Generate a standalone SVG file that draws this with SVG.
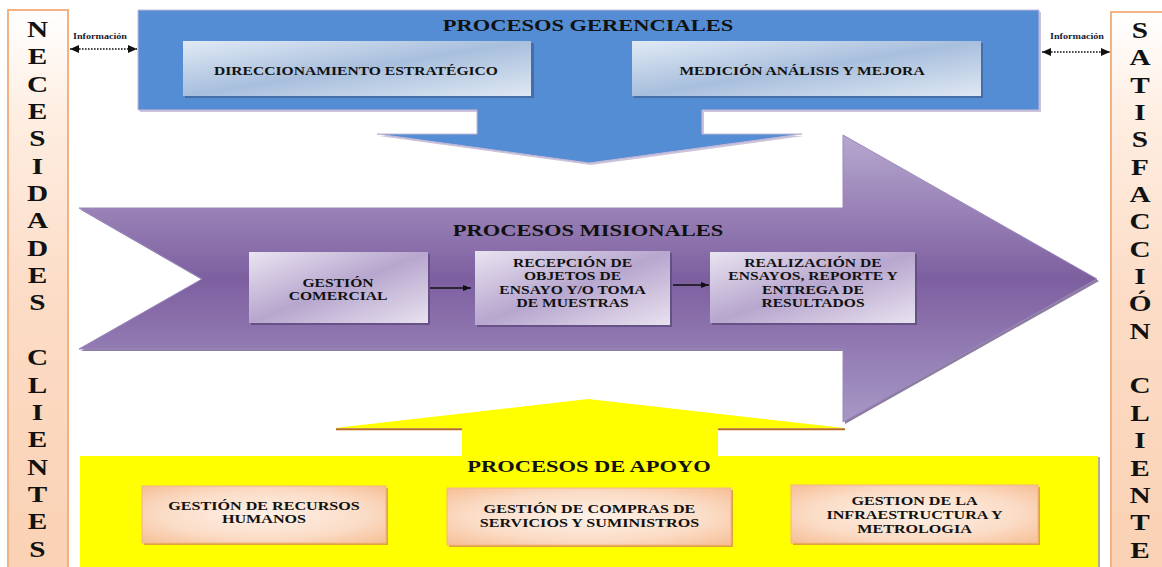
<svg xmlns="http://www.w3.org/2000/svg" width="1162" height="567" viewBox="0 0 1162 567">
<style>
.t{font-family:"Liberation Serif","Times New Roman",serif;font-weight:bold;fill:#111;text-anchor:middle}
.big{font-size:22.5px}
.h{font-size:17.3px}
.b{font-size:12px}
.y{font-size:12.4px}
.inf{font-size:7.8px;fill:#1a1a2e}
.col{fill:url(#colGrad);stroke:#f4b183;stroke-width:2}
.bluebox{fill:url(#blueGrad)}
.purbox{fill:url(#purGrad)}
.peachbox{fill:url(#peachGrad);stroke:#f2b68a;stroke-width:1}
.conn{stroke:#111;stroke-width:1.4;fill:none}
.dot{stroke:#111;stroke-width:1.6;stroke-dasharray:1.6 1.4;fill:none}
</style>
<defs>
<linearGradient id="colGrad" x1="0" y1="0" x2="0" y2="1">
<stop offset="0" stop-color="#ffffff"/>
<stop offset="0.18" stop-color="#feeee2"/>
<stop offset="0.5" stop-color="#fcdcc6"/>
<stop offset="1" stop-color="#fad1b3"/>
</linearGradient>
<linearGradient id="purArrow" x1="0" y1="0" x2="0" y2="1">
<stop offset="0" stop-color="#b7a8cf"/>
<stop offset="0.5" stop-color="#7d5fa0"/>
<stop offset="1" stop-color="#a898c6"/>
</linearGradient>
<linearGradient id="blueGrad" x1="0" y1="0" x2="1" y2="1">
<stop offset="0" stop-color="#e1eaf5"/>
<stop offset="0.5" stop-color="#a8bfdd"/>
<stop offset="1" stop-color="#dfe8f3"/>
</linearGradient>
<linearGradient id="purGrad" x1="0" y1="0" x2="1" y2="1">
<stop offset="0" stop-color="#e9e4f1"/>
<stop offset="0.5" stop-color="#b7a6ce"/>
<stop offset="1" stop-color="#e8e2ef"/>
</linearGradient>
<radialGradient id="peachGrad" cx="0.5" cy="0.5" r="0.7">
<stop offset="0" stop-color="#fdf1e8"/>
<stop offset="0.6" stop-color="#fbdcc6"/>
<stop offset="1" stop-color="#f6be95"/>
</radialGradient>
<marker id="ah" viewBox="0 0 8 6" refX="8" refY="3" markerWidth="8" markerHeight="6" markerUnits="userSpaceOnUse" orient="auto">
<path d="M0,0 L8,3 L0,6 Z" fill="#111"/>
</marker>
<marker id="dh" viewBox="0 0 9 8" refX="9" refY="4" markerWidth="9" markerHeight="8" markerUnits="userSpaceOnUse" orient="auto-start-reverse">
<path d="M0,0 L9,4 L0,8 Z" fill="#111"/>
</marker>
</defs>
<rect width="1162" height="567" fill="#ffffff"/>

<g id="necesidades-clientes">
<rect class="col" x="8" y="10" width="60" height="570"/>
<g transform="translate(37.5,0) scale(1.3,1)">
<text class="t big" x="0" y="37">N</text>
<text class="t big" x="0" y="64.3">E</text>
<text class="t big" x="0" y="91.7">C</text>
<text class="t big" x="0" y="119">E</text>
<text class="t big" x="0" y="146.4">S</text>
<text class="t big" x="0" y="173.7">I</text>
<text class="t big" x="0" y="201.1">D</text>
<text class="t big" x="0" y="228.4">A</text>
<text class="t big" x="0" y="255.8">D</text>
<text class="t big" x="0" y="283.1">E</text>
<text class="t big" x="0" y="310.5">S</text>
<text class="t big" x="0" y="365.2">C</text>
<text class="t big" x="0" y="392.6">L</text>
<text class="t big" x="0" y="419.9">I</text>
<text class="t big" x="0" y="447.3">E</text>
<text class="t big" x="0" y="474.6">N</text>
<text class="t big" x="0" y="502">T</text>
<text class="t big" x="0" y="529.3">E</text>
<text class="t big" x="0" y="556.7">S</text>
</g>
</g>

<g id="satisfaccion-cliente">
<rect class="col" x="1111" y="12" width="60" height="570"/>
<g transform="translate(1140,0) scale(1.3,1)">
<text class="t big" x="0" y="38">S</text>
<text class="t big" x="0" y="65.3">A</text>
<text class="t big" x="0" y="92.7">T</text>
<text class="t big" x="0" y="120">I</text>
<text class="t big" x="0" y="147.4">S</text>
<text class="t big" x="0" y="174.7">F</text>
<text class="t big" x="0" y="202.1">A</text>
<text class="t big" x="0" y="229.4">C</text>
<text class="t big" x="0" y="256.8">C</text>
<text class="t big" x="0" y="284.1">I</text>
<text class="t big" x="0" y="311.5">Ó</text>
<text class="t big" x="0" y="338.8">N</text>
<text class="t big" x="0" y="393.5">C</text>
<text class="t big" x="0" y="420.9">L</text>
<text class="t big" x="0" y="448.2">I</text>
<text class="t big" x="0" y="475.6">E</text>
<text class="t big" x="0" y="502.9">N</text>
<text class="t big" x="0" y="530.3">T</text>
<text class="t big" x="0" y="557.6">E</text>
</g>
</g>

<g id="procesos-gerenciales">
<polygon points="140,12 1041,12 1041,112 704,112 704,136 804,136 591,165 379,136 479,136 479,112 140,112" fill="#a99cc2" opacity="0.6"/>
<polygon points="138,10 1039,10 1039,110 702,110 702,134 802,134 589,163 377,134 477,134 477,110 138,110" fill="#548dd4" stroke="#c4b6d8" stroke-width="1"/>
<g transform="translate(588,0) scale(1.3,1)"><text class="t h" x="0" y="31">PROCESOS GERENCIALES</text></g>
</g>

<g id="direccionamiento">
<rect x="185" y="43" width="349" height="55" fill="#3f679e" opacity="0.8"/>
<rect class="bluebox" x="183" y="41" width="348" height="55"/>
<g transform="translate(356,0) scale(1.3,1)"><text class="t b" x="0" y="75">DIRECCIONAMIENTO ESTRATÉGICO</text></g>
</g>

<g id="medicion">
<rect x="634" y="43" width="349" height="55" fill="#3f679e" opacity="0.8"/>
<rect class="bluebox" x="632" y="41" width="349" height="55"/>
<g transform="translate(802,0) scale(1.3,1)"><text class="t b" x="0" y="75">MEDICIÓN ANÁLISIS Y MEJORA</text></g>
</g>

<g id="procesos-misionales">
<polygon points="81,210 845,210 845,137 1099,281 845,424 845,351 81,351 204,281" fill="#5b4678" opacity="0.7"/>
<polygon points="79,208 843,208 843,135 1097,279 843,422 843,349 79,349 202,279" fill="url(#purArrow)" stroke="#9a88bb" stroke-width="1"/>
<g transform="translate(588,0) scale(1.3,1)"><text class="t h" x="0" y="236">PROCESOS MISIONALES</text></g>
</g>

<g id="gestion-comercial">
<rect x="251" y="254" width="179" height="71" fill="#5e4a7e" opacity="0.8"/>
<rect class="purbox" x="249" y="252" width="179" height="71"/>
<g transform="translate(338,0) scale(1.3,1)"><text class="t b" x="0" y="287">GESTIÓN<tspan x="0" y="300">COMERCIAL</tspan></text></g>
</g>

<g id="recepcion">
<rect x="477" y="253" width="195" height="74" fill="#5e4a7e" opacity="0.8"/>
<rect class="purbox" x="475" y="251" width="195" height="74"/>
<g transform="translate(572.5,0) scale(1.3,1)"><text class="t b" x="0" y="267">RECEPCIÓN DE<tspan x="0" y="280.3">OBJETOS DE</tspan><tspan x="0" y="293.6">ENSAYO Y/O TOMA</tspan><tspan x="0" y="306.9">DE MUESTRAS</tspan></text></g>
</g>

<g id="realizacion">
<rect x="712" y="254" width="205" height="71" fill="#5e4a7e" opacity="0.8"/>
<rect class="purbox" x="710" y="252" width="205" height="71"/>
<g transform="translate(813,0) scale(1.3,1)"><text class="t b" x="0" y="267">REALIZACIÓN DE<tspan x="0" y="280.3">ENSAYOS, REPORTE Y</tspan><tspan x="0" y="293.6">ENTREGA DE</tspan><tspan x="0" y="306.9">RESULTADOS</tspan></text></g>
</g>

<g id="procesos-apoyo">
<polygon points="80,456 462,456 462,428 335,428 588,399 844,428 718,428 718,456 1098,456 1098,570 80,570" fill="#ffff00"/>
<line x1="336" y1="429.2" x2="462" y2="429.2" stroke="#b86a1e" stroke-width="2"/>
<line x1="718" y1="429.2" x2="845" y2="429.2" stroke="#b86a1e" stroke-width="2"/>
<line x1="1099" y1="457" x2="1099" y2="570" stroke="#9c8f6a" stroke-width="1.5"/>
<g transform="translate(589,0) scale(1.3,1)"><text class="t h" x="0" y="472">PROCESOS DE APOYO</text></g>
</g>

<g id="recursos-humanos">
<rect x="144" y="488" width="244" height="57" fill="#d68c4a" opacity="0.8"/>
<rect class="peachbox" x="142" y="486" width="244" height="57"/>
<g transform="translate(264,0) scale(1.3,1)"><text class="t y" x="0" y="510">GESTIÓN DE RECURSOS<tspan x="0" y="523">HUMANOS</tspan></text></g>
</g>

<g id="compras">
<rect x="449" y="490" width="284" height="57" fill="#d68c4a" opacity="0.8"/>
<rect class="peachbox" x="447" y="488" width="284" height="57"/>
<g transform="translate(589.5,0) scale(1.3,1)"><text class="t y" x="0" y="513">GESTIÓN DE COMPRAS DE<tspan x="0" y="527">SERVICIOS Y SUMINISTROS</tspan></text></g>
</g>

<g id="infraestructura">
<rect x="793" y="487" width="247" height="58" fill="#d68c4a" opacity="0.8"/>
<rect class="peachbox" x="791" y="485" width="247" height="58"/>
<g transform="translate(914.5,0) scale(1.3,1)"><text class="t y" x="0" y="505">GESTION DE LA<tspan x="0" y="519">INFRAESTRUCTURA Y</tspan><tspan x="0" y="533">METROLOGIA</tspan></text></g>
</g>

<g id="info-left">
<g transform="translate(100,0) scale(1.3,1)"><text class="t inf" x="0" y="39">Información</text></g>
</g>
<g id="info-right">
<g transform="translate(1077,0) scale(1.3,1)"><text class="t inf" x="0" y="39">Información</text></g>
</g>

<g id="connectors">
<line class="dot" x1="70" y1="49" x2="137" y2="49" marker-start="url(#dh)" marker-end="url(#dh)"/>
<line class="dot" x1="1042" y1="52" x2="1110" y2="52" marker-start="url(#dh)" marker-end="url(#dh)"/>
<line class="conn" x1="430" y1="288" x2="471" y2="288" marker-end="url(#ah)"/>
<line class="conn" x1="673" y1="285" x2="709" y2="285" marker-end="url(#ah)"/>
</g>
</svg>
